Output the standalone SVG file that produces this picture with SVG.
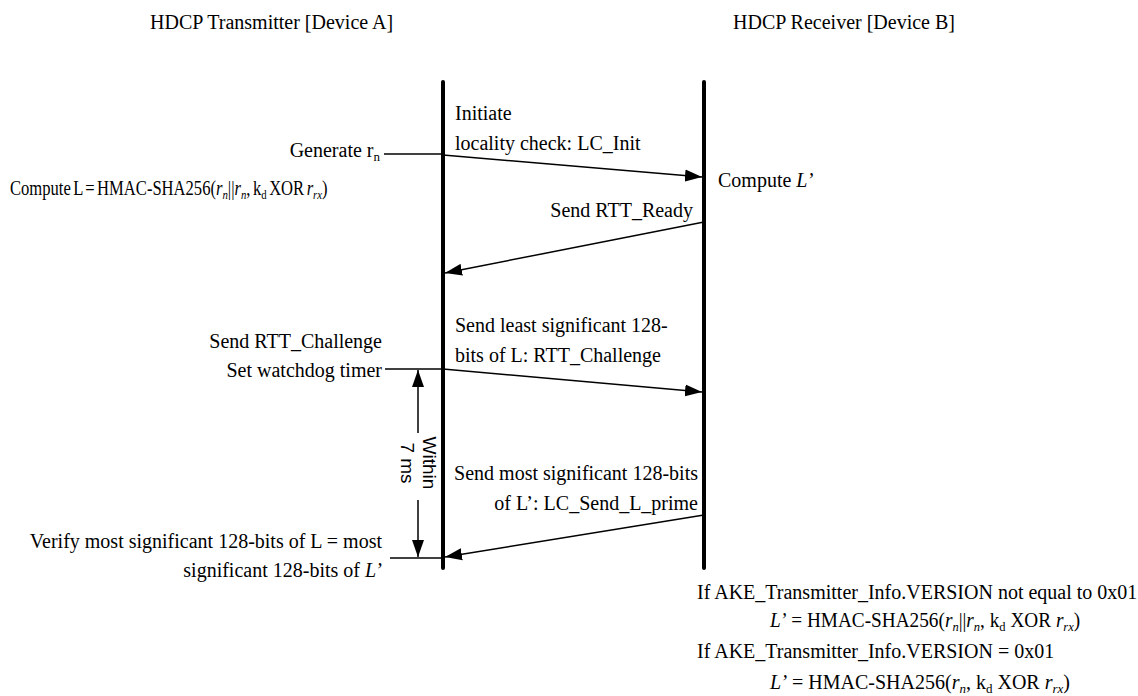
<svg xmlns="http://www.w3.org/2000/svg" width="1138" height="696" viewBox="0 0 1138 696">
<style>
text{font-family:"Liberation Serif","Times New Roman",serif;font-size:20px;fill:#000}
.r{text-anchor:end}
.i{font-style:italic}
.sub{font-size:13px}
.life{stroke:#000;stroke-width:4;stroke-linecap:round}
.msg{stroke:#000;stroke-width:1.5;fill:none}
.rot{font-family:"Liberation Sans",Arial,sans-serif;font-size:19px;text-anchor:middle}
</style>
<defs>
<marker id="ah" markerUnits="userSpaceOnUse" markerWidth="18" markerHeight="13" refX="17" refY="6.5" orient="auto">
<path d="M0,0.5 L17,6.5 L0,12.5 z" fill="#000"/>
</marker>
</defs>
<rect width="1138" height="696" fill="#fff"/>
<g id="header-a"><text x="150" y="29">HDCP Transmitter [Device A]</text></g>
<g id="header-b"><text x="733" y="29">HDCP Receiver [Device B]</text></g>
<g id="lifeline-a"><line class="life" x1="443" y1="82" x2="443" y2="568"/></g>
<g id="lifeline-b"><line class="life" x1="704" y1="82" x2="704" y2="568"/></g>
<g id="connectors">
<line class="msg" x1="443" y1="155" x2="702" y2="177" marker-end="url(#ah)"/>
<line class="msg" x1="704" y1="222" x2="445" y2="273" marker-end="url(#ah)"/>
<line class="msg" x1="443" y1="369" x2="702" y2="392" marker-end="url(#ah)"/>
<line class="msg" x1="704" y1="515" x2="445" y2="557" marker-end="url(#ah)"/>
<line class="msg" x1="384" y1="154" x2="443" y2="154"/>
<line class="msg" x1="385" y1="369" x2="443" y2="369"/>
<line class="msg" x1="390" y1="558" x2="443" y2="558"/>
<line class="msg" x1="418" y1="433" x2="418" y2="370" marker-end="url(#ah)"/>
<line class="msg" x1="418" y1="500" x2="418" y2="557" marker-end="url(#ah)"/>
</g>
<g id="timer-label"><text class="rot" transform="translate(423,463) rotate(90)"><tspan x="0" y="0">Within</tspan><tspan x="0" y="22">7 ms</tspan></text></g>
<g id="msg-lcinit"><text x="455" y="120">Initiate</text><text x="455" y="150">locality check: LC_Init</text></g>
<g id="step-generate"><text class="r" x="380" y="157">Generate r<tspan class="sub" dy="4">n</tspan></text></g>
<g id="step-compute-l"><text transform="translate(10,195) scale(0.83,1)" x="0" y="0" word-spacing="-2">Compute L = HMAC-SHA256(<tspan class="i">r</tspan><tspan class="sub i" dy="4">n</tspan><tspan dy="-4">||</tspan><tspan class="i">r</tspan><tspan class="sub i" dy="4">n</tspan><tspan dy="-4">, k</tspan><tspan class="sub" dy="4">d</tspan><tspan dy="-4"> XOR </tspan><tspan class="i">r</tspan><tspan class="sub i" dy="4">rx</tspan><tspan dy="-4">)</tspan></text></g>
<g id="step-compute-lp"><text x="718" y="187">Compute <tspan class="i">L’</tspan></text></g>
<g id="msg-rttready"><text class="r" x="693" y="217">Send RTT_Ready</text></g>
<g id="msg-rttchallenge"><text x="455" y="332">Send least significant 128-</text><text x="455" y="362">bits of L: RTT_Challenge</text></g>
<g id="step-send-challenge"><text class="r" x="382" y="348">Send RTT_Challenge</text><text class="r" x="382" y="377">Set watchdog timer</text></g>
<g id="msg-lsendlprime"><text class="r" x="698" y="480">Send most significant 128-bits</text><text class="r" x="698" y="510">of L’: LC_Send_L_prime</text></g>
<g id="step-verify"><text class="r" x="382" y="548">Verify most significant 128-bits of L = most</text><text class="r" x="382" y="577">significant 128-bits of <tspan class="i">L’</tspan></text></g>
<g id="note-receiver">
<text x="697" y="599">If AKE_Transmitter_Info.VERSION not equal to 0x01</text>
<text transform="translate(770,627) scale(0.963,1)" x="0" y="0"><tspan class="i">L’</tspan> = HMAC-SHA256(<tspan class="i">r</tspan><tspan class="sub i" dy="4">n</tspan><tspan dy="-4">||</tspan><tspan class="i">r</tspan><tspan class="sub i" dy="4">n</tspan><tspan dy="-4">, k</tspan><tspan class="sub" dy="4">d</tspan><tspan dy="-4"> XOR </tspan><tspan class="i">r</tspan><tspan class="sub i" dy="4">rx</tspan><tspan dy="-4">)</tspan></text>
<text x="697" y="658">If AKE_Transmitter_Info.VERSION = 0x01</text>
<text x="770" y="689"><tspan class="i">L’</tspan> = HMAC-SHA256(<tspan class="i">r</tspan><tspan class="sub i" dy="4">n</tspan><tspan dy="-4">, k</tspan><tspan class="sub" dy="4">d</tspan><tspan dy="-4"> XOR </tspan><tspan class="i">r</tspan><tspan class="sub i" dy="4">rx</tspan><tspan dy="-4">)</tspan></text>
</g>
</svg>
